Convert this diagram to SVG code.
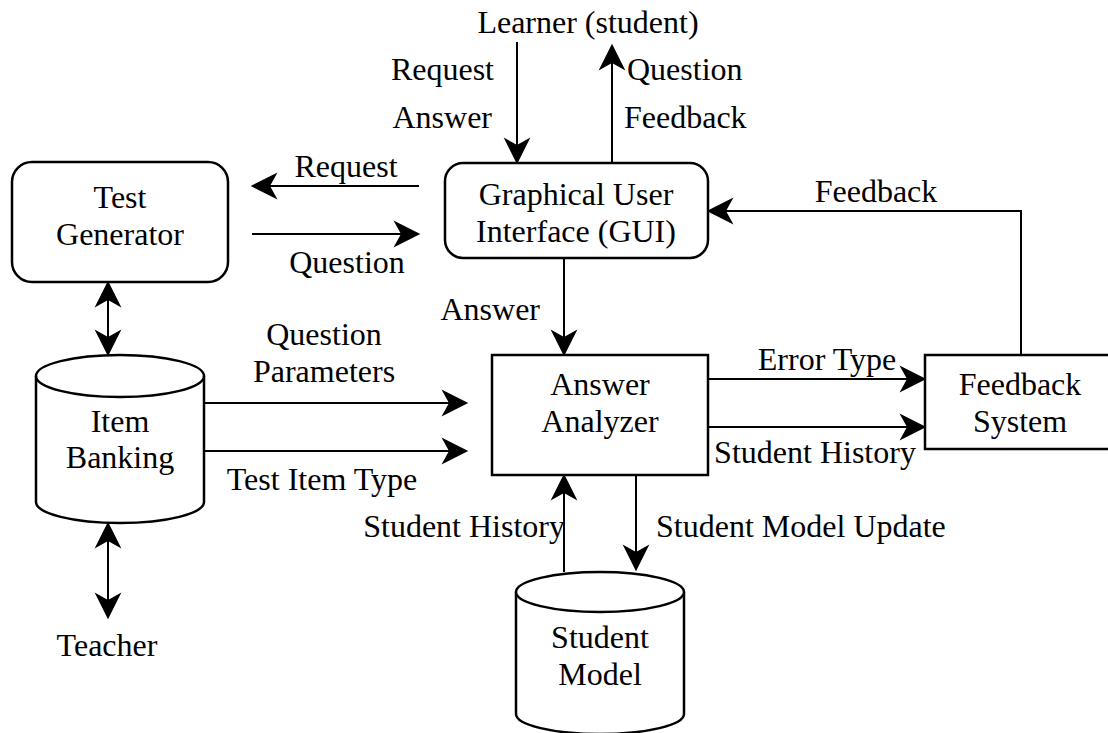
<svg xmlns="http://www.w3.org/2000/svg" width="1108" height="733" viewBox="0 0 1108 733">
  <style>
    text { font-family: 'Liberation Serif', 'Times New Roman', Times, serif; font-size: 32px; fill: #000; }
    .c { text-anchor: middle; }
    .e { text-anchor: end; }
    .box { fill: #fff; stroke: #000; stroke-width: 2.5; }
    .link { fill: none; stroke: #000; stroke-width: 2; }
  </style>
  <defs>
    <!-- stealth arrowhead; tip sits 18px beyond the line end -->
    <marker id="ah" markerUnits="userSpaceOnUse" markerWidth="30" markerHeight="30" viewBox="-8 -13 28 26" refX="0" refY="0" orient="auto" overflow="visible">
      <path d="M18,0 L-7,-12.5 L0,0 L-7,12.5 Z" fill="#000"/>
    </marker>
    <marker id="ahs" markerUnits="userSpaceOnUse" markerWidth="30" markerHeight="30" viewBox="-8 -13 28 26" refX="0" refY="0" orient="auto-start-reverse" overflow="visible">
      <path d="M18,0 L-7,-12.5 L0,0 L-7,12.5 Z" fill="#000"/>
    </marker>
  </defs>
  <rect width="1108" height="733" fill="#fff"/>

  <g id="connectors">
    <path class="link" d="M419,186 H270" marker-end="url(#ah)"/>
    <path class="link" d="M252,234 H401" marker-end="url(#ah)"/>
    <path class="link" d="M517,42 V145" marker-end="url(#ah)"/>
    <path class="link" d="M612,163 V63" marker-end="url(#ah)"/>
    <path class="link" d="M1021,355 V211 H726" marker-end="url(#ah)"/>
    <path class="link" d="M564,258 V337" marker-end="url(#ah)"/>
    <path class="link" d="M708,379 H907" marker-end="url(#ah)"/>
    <path class="link" d="M708,427 H907" marker-end="url(#ah)"/>
    <path class="link" d="M204,403 H449" marker-end="url(#ah)"/>
    <path class="link" d="M204,451 H449" marker-end="url(#ah)"/>
    <path class="link" d="M564,572 V493" marker-end="url(#ah)"/>
    <path class="link" d="M636,475 V552" marker-end="url(#ah)"/>
    <path class="link" d="M108,300 V337" marker-start="url(#ahs)" marker-end="url(#ahs)"/>
    <path class="link" d="M108,541 V600" marker-start="url(#ahs)" marker-end="url(#ahs)"/>

    <text x="346" y="177" class="c">Request</text>
    <text x="347" y="273" class="c">Question</text>
    <text x="494" y="80" class="e">Request</text>
    <text x="492" y="128" class="e">Answer</text>
    <text x="627" y="80">Question</text>
    <text x="624" y="128">Feedback</text>
    <text x="876" y="202" class="c">Feedback</text>
    <text x="540" y="320" class="e">Answer</text>
    <text x="827" y="370" class="c">Error Type</text>
    <text x="815" y="463" class="c">Student History</text>
    <text x="324" y="345" class="c">Question</text>
    <text x="324" y="382" class="c">Parameters</text>
    <text x="322" y="490" class="c">Test Item Type</text>
    <text x="565" y="537" class="e">Student History</text>
    <text x="656" y="537">Student Model Update</text>
  </g>

  <g id="learner">
    <text x="588" y="33" class="c">Learner (student)</text>
  </g>

  <g id="teacher">
    <text x="107" y="656" class="c">Teacher</text>
  </g>

  <g id="test-generator">
    <rect class="box" x="12" y="162" width="216" height="120" rx="20"/>
    <text x="120" y="208" class="c">Test</text>
    <text x="120" y="245" class="c">Generator</text>
  </g>

  <g id="gui">
    <rect class="box" x="445" y="163" width="263" height="95" rx="18"/>
    <text x="576" y="205" class="c">Graphical User</text>
    <text x="576" y="242" class="c">Interface (GUI)</text>
  </g>

  <g id="answer-analyzer">
    <rect class="box" x="492" y="355" width="216" height="120"/>
    <text x="600" y="395" class="c">Answer</text>
    <text x="600" y="432" class="c">Analyzer</text>
  </g>

  <g id="feedback-system">
    <rect class="box" x="925" y="355" width="200" height="94"/>
    <text x="1020" y="395" class="c">Feedback</text>
    <text x="1020" y="432" class="c">System</text>
  </g>

  <g id="item-banking">
    <path class="box" d="M36,376 V502 A84,21 0 0 0 204,502 V376"/>
    <ellipse class="box" cx="120" cy="376" rx="84" ry="21"/>
    <text x="120" y="432" class="c">Item</text>
    <text x="120" y="468" class="c">Banking</text>
  </g>

  <g id="student-model">
    <path class="box" d="M516,592 V714 A84,20 0 0 0 684,714 V592"/>
    <ellipse class="box" cx="600" cy="592" rx="84" ry="20"/>
    <text x="600" y="648" class="c">Student</text>
    <text x="600" y="685" class="c">Model</text>
  </g>
</svg>
